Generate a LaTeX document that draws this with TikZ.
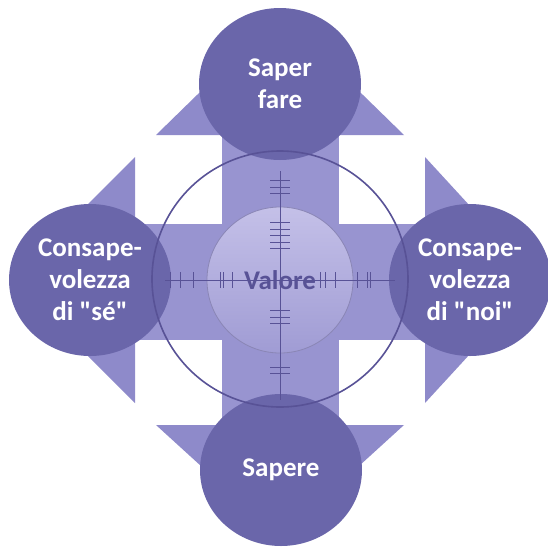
\documentclass[tikz,border=0pt]{standalone}
\usepackage{fontspec}
\setmainfont{Carlito}[Ligatures=TeXOff]
\usepackage{tikz}
\usetikzlibrary{positioning,shapes.geometric}

\definecolor{bubfill}{RGB}{106,102,170}
\definecolor{barfill}{RGB}{152,148,208}
\definecolor{headfill}{RGB}{142,138,202}
\definecolor{ringline}{RGB}{88,82,150}
\definecolor{coretop}{RGB}{196,192,232}
\definecolor{corebot}{RGB}{160,156,212}

\begin{document}
\begin{tikzpicture}[x=1pt,y=-1pt,
  bub/.style={ellipse, fill=bubfill, minimum width=162pt, minimum height=152pt,
    inner sep=0pt, align=center, text=white,
    font=\bfseries\fontsize{27}{32}\selectfont},
  core/.style={circle, minimum size=146pt, inner sep=0pt, draw=ringline!70,
    line width=0.8pt, top color=coretop, bottom color=corebot},
  tick/.style={draw=ringline, line width=0.6pt}
]
\useasboundingbox (0,0) rectangle (548,550);

\fill[headfill] (280,14) -- (404,135) -- (156,135) -- cycle;
\fill[headfill] (280,538) -- (404,425) -- (156,425) -- cycle;
\fill[headfill] (12,280) -- (135,157) -- (135,403) -- cycle;
\fill[headfill] (538,280) -- (425,157) -- (425,403) -- cycle;
\fill[barfill] (222,135) rectangle (339,425);
\fill[barfill] (135,224) rectangle (425,340);

\node[bub] (sapfare) at (280,84) {Saper\\fare};
\node[bub] (sapere) at (281,470) {Sapere};
\node[bub] (conse) at (90,280) {Consape-\\volezza\\di "sé"};
\node[bub] (connoi) at (470,280) {Consape-\\volezza\\di "noi"};

\node[circle, draw=ringline, line width=1.6pt, minimum size=256pt] (ring) at (280,279) {};
\node[core] (core) at (280,280) {};

\draw[tick] (165,280) -- (395,280);
\draw[tick] (280,171) -- (280,400);
\foreach \d in {-100,-93,-87,-58,-51,-45,-38,-32,30,37,43,87,93}
  \draw[tick] (270,280+\d) -- (290,280+\d);
\foreach \d in {-110,-100,-87,-60,-57,-48,40,45,55,77,87,90}
  \draw[tick] (280+\d,272) -- (280+\d,288);

\node[text=ringline, font=\bfseries\fontsize{27}{32}\selectfont] (valore) at (core) {Valore};
\end{tikzpicture}
\end{document}
